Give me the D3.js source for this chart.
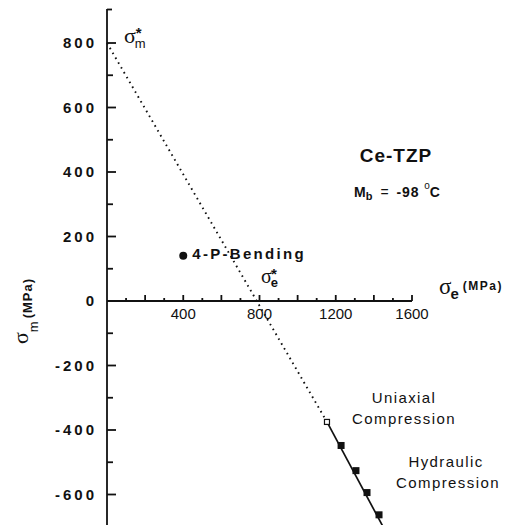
<!DOCTYPE html>
<html><head><meta charset="utf-8">
<script src="https://cdn.jsdelivr.net/npm/d3@7"></script>
<style>
body{margin:0;background:#fff;}
svg text{fill:#111;}
</style></head>
<body><svg id="c" width="521" height="525"></svg>
<script>
// data
const yMajorTicks = [-600,-400,-200,0,200,400,600,800];
const yMinorTicks = [-700,-500,-300,-100,100,300,500,700];
const xMajorTicks = [200,400,600,800,1000,1200,1400,1600];
const xMinorTicks = [100,300,500,700,900,1100,1300,1500];
const xTickLabels = [400,800,1200,1600];
const fitDotted = [[0,800],[1154,-375]];          // sigma_e, sigma_m
const fitSolid = [[1154,-375],[1450,-702]];
const uniaxialOpen = [[1154,-375]];
const hydraulicFilled = [[1228,-448],[1306,-526],[1364,-594],[1427,-663]];
const bending = [[400,140]];

const svg = d3.select("#c");
const x = d3.scaleLinear().domain([0,1600]).range([107,412]);
const y = d3.scaleLinear().domain([-600,800]).range([494.5,43]);
const SANS = "Liberation Sans, Arial, sans-serif";
const SERIF = "Liberation Serif, DejaVu Serif, serif";
const SW = 1.8;

// Y axis line
svg.append("line").attr("x1",x(0)).attr("x2",x(0)).attr("y1",9).attr("y2",525)
  .attr("stroke","#111").attr("stroke-width",SW);
svg.append("line").attr("x1",x(0)).attr("x2",x(0)+5).attr("y1",9.5).attr("y2",9.5).attr("stroke","#111").attr("stroke-width",SW);

// y ticks
svg.append("g").selectAll("line").data(yMajorTicks).enter().append("line")
  .attr("x1",x(0)).attr("x2",x(0)+9).attr("y1",d=>y(d)).attr("y2",d=>y(d))
  .attr("stroke","#111").attr("stroke-width",SW);
svg.append("g").selectAll("line").data(yMinorTicks).enter().append("line")
  .attr("x1",x(0)).attr("x2",x(0)+6).attr("y1",d=>y(d)).attr("y2",d=>y(d))
  .attr("stroke","#111").attr("stroke-width",SW);
svg.append("g").selectAll("text").data(yMajorTicks).enter().append("text")
  .attr("x",97).attr("y",d=>y(d)).attr("dy","0.36em").attr("text-anchor","end")
  .attr("font-family",SANS).attr("font-size",15).attr("font-weight","bold").attr("letter-spacing","3px")
  .text(d=> d<0 ? "-"+Math.abs(d) : d);

// X axis
svg.append("line").attr("x1",x(0)).attr("x2",x(1600)).attr("y1",y(0)).attr("y2",y(0))
  .attr("stroke","#111").attr("stroke-width",SW);
svg.append("g").selectAll("line").data(xMajorTicks).enter().append("line")
  .attr("x1",d=>x(d)).attr("x2",d=>x(d)).attr("y1",y(0)).attr("y2",y(0)-6)
  .attr("stroke","#111").attr("stroke-width",SW);
svg.append("g").selectAll("line").data(xMinorTicks).enter().append("line")
  .attr("x1",d=>x(d)).attr("x2",d=>x(d)).attr("y1",y(0)).attr("y2",y(0)-3)
  .attr("stroke","#111").attr("stroke-width",SW);
svg.append("g").selectAll("text").data(xTickLabels).enter().append("text")
  .attr("x",d=>x(d)).attr("y",y(0)+18).attr("text-anchor","middle")
  .attr("font-family",SANS).attr("font-size",15)
  .text(d=>d);

// lines
const line = d3.line().x(d=>x(d[0])).y(d=>y(d[1]));
svg.append("path").attr("d",line(fitDotted)).attr("fill","none").attr("stroke","#111")
  .attr("stroke-width",1.9).attr("stroke-dasharray","1.6,4.0");
svg.append("path").attr("d",line(fitSolid)).attr("fill","none").attr("stroke","#111").attr("stroke-width",1.7);

// points
svg.selectAll(".hf").data(hydraulicFilled).enter().append("rect")
  .attr("x",d=>x(d[0])-3.5).attr("y",d=>y(d[1])-3.5).attr("width",7).attr("height",7).attr("fill","#111");
svg.selectAll(".uo").data(uniaxialOpen).enter().append("rect")
  .attr("x",d=>x(d[0])-2.5).attr("y",d=>y(d[1])-2.5).attr("width",5).attr("height",5)
  .attr("fill","#fff").attr("stroke","#111").attr("stroke-width",1.2);
svg.selectAll(".bp").data(bending).enter().append("circle")
  .attr("cx",d=>x(d[0])).attr("cy",d=>y(d[1])).attr("r",4).attr("fill","#111");

// labels
svg.append("text").attr("x",x(400)+9).attr("y",259).attr("font-family",SANS).attr("font-size",15).attr("font-weight","bold")
  .attr("letter-spacing","2.3px").text("4-P-Bending");

// sigma_m*
const sm = svg.append("text").attr("x",124).attr("y",43).attr("font-family",SERIF).attr("font-size",22);
sm.append("tspan").text("σ");
sm.append("tspan").attr("font-family",SANS).attr("font-size",13).attr("dy",5).attr("dx",-1).text("m");
sm.append("tspan").attr("font-family",SANS).attr("font-size",15).attr("font-weight","bold").attr("dy",-10).attr("dx",-10).text("*");

// sigma_e*
const se = svg.append("text").attr("x",261).attr("y",283).attr("font-family",SERIF).attr("font-size",20);
se.append("tspan").text("σ");
se.append("tspan").attr("font-family",SANS).attr("font-size",13).attr("font-weight","bold").attr("dy",4).attr("dx",-1).text("e");
se.append("tspan").attr("font-family",SANS).attr("font-size",15).attr("font-weight","bold").attr("dy",-8).attr("dx",-7).text("*");

// x axis title
const xt = svg.append("text").attr("x",439).attr("y",294).attr("font-family",SERIF).attr("font-size",23);
xt.append("tspan").text("σ");
xt.append("tspan").attr("font-family",SANS).attr("font-size",15).attr("font-weight","bold").attr("dy",5).attr("dx",-1).text("e");
xt.append("tspan").attr("font-family",SANS).attr("font-size",12).attr("font-weight","bold").attr("letter-spacing","1.5px")
  .attr("dy",-9).attr("dx",4).text("(MPa)");

// y axis title
const yt = svg.append("text").attr("transform","translate(28,344) rotate(-90)").attr("font-family",SERIF).attr("font-size",22);
yt.append("tspan").text("σ");
yt.append("tspan").attr("font-family",SANS).attr("font-size",13).attr("dy",10).attr("dx",0).text("m");
yt.append("tspan").attr("font-family",SANS).attr("font-size",13).attr("font-weight","bold").attr("letter-spacing","1px")
  .attr("dy",-6).attr("dx",3).text("(MPa)");

// Ce-TZP
svg.append("text").attr("x",396).attr("y",162).attr("text-anchor","middle").attr("font-family",SANS).attr("font-size",19)
  .attr("font-weight","bold").attr("letter-spacing","1px").text("Ce-TZP");
const mb = svg.append("text").attr("x",354).attr("y",197).attr("font-family",SANS).attr("font-size",14).attr("font-weight","bold");
mb.append("tspan").text("M");
mb.append("tspan").attr("font-size",11).attr("dy",3).text("b");
mb.append("tspan").attr("dy",-3).attr("dx",8).attr("font-weight","normal").text("=");
mb.append("tspan").attr("dx",8).attr("letter-spacing","0.8px").text("-98");
mb.append("tspan").attr("font-size",10).attr("font-weight","normal").attr("dy",-8).attr("dx",5).text("o");
mb.append("tspan").attr("dy",8).text("C");

// Uniaxial / Hydraulic
const lab = (t,xx,yy)=>svg.append("text").attr("x",xx).attr("y",yy).attr("text-anchor","middle")
  .attr("font-family",SANS).attr("font-size",15).attr("letter-spacing","1.4px").text(t);
lab("Uniaxial",404,403);
lab("Compression",404,424);
lab("Hydraulic",446,467);
lab("Compression",448,488);
</script></body></html>
